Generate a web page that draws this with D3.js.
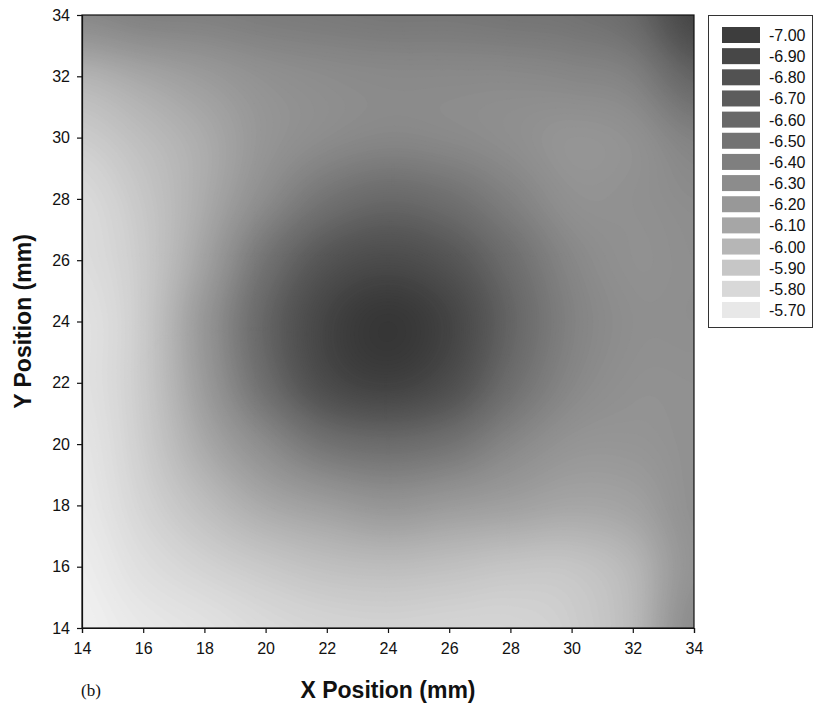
<!DOCTYPE html>
<html>
<head>
<meta charset="utf-8">
<script src="https://cdn.jsdelivr.net/npm/d3@7"></script>
<style>
  body { margin: 0; background: #fff; }
  text { font-family: "Liberation Sans", Arial, sans-serif; fill: #111; }
</style>
</head>
<body>
<svg id="chart" width="813" height="707"></svg>
<script>
// Measurement grid (mm) and the potential measured at each node, rows from top (y = 34) to bottom (y = 14)
const xPositions = [14, 16, 18, 20, 22, 24, 26, 28, 30, 32, 34];
const yPositions = [34, 32, 30, 28, 26, 24, 22, 20, 18, 16, 14];
const potential = [
  [-6.32, -6.38, -6.39, -6.42, -6.44, -6.46, -6.46, -6.48, -6.50, -6.59, -6.91],
  [-6.02, -6.10, -6.18, -6.26, -6.30, -6.32, -6.32, -6.32, -6.34, -6.39, -6.63],
  [-5.87, -5.96, -6.07, -6.22, -6.30, -6.34, -6.32, -6.28, -6.23, -6.26, -6.38],
  [-5.79, -5.90, -6.07, -6.30, -6.50, -6.59, -6.53, -6.39, -6.26, -6.26, -6.30],
  [-5.77, -5.88, -6.13, -6.50, -6.77, -6.86, -6.77, -6.55, -6.34, -6.26, -6.28],
  [-5.74, -5.88, -6.21, -6.62, -6.93, -7.06, -6.93, -6.63, -6.38, -6.28, -6.28],
  [-5.74, -5.88, -6.18, -6.55, -6.86, -6.96, -6.84, -6.55, -6.34, -6.26, -6.26],
  [-5.72, -5.86, -6.08, -6.30, -6.50, -6.56, -6.50, -6.34, -6.23, -6.22, -6.26],
  [-5.70, -5.82, -5.95, -6.08, -6.16, -6.22, -6.18, -6.14, -6.10, -6.13, -6.26],
  [-5.67, -5.76, -5.83, -5.89, -5.94, -5.96, -5.94, -5.91, -5.91, -6.00, -6.24],
  [-5.65, -5.70, -5.74, -5.79, -5.82, -5.83, -5.82, -5.82, -5.86, -5.98, -6.30]
];

// Legend levels and their grey fills
const legendLevels = [-7.00, -6.90, -6.80, -6.70, -6.60, -6.50, -6.40, -6.30, -6.20, -6.10, -6.00, -5.90, -5.80, -5.70];
const legendGreys = ["#3d3d3d", "#474747", "#525252", "#5c5c5c", "#686868", "#737373", "#7f7f7f",
                     "#8c8c8c", "#989898", "#a6a6a6", "#b6b6b6", "#c6c6c6", "#d8d8d8", "#e8e8e8"];

const xTicks = [14, 16, 18, 20, 22, 24, 26, 28, 30, 32, 34];
const yTicks = [14, 16, 18, 20, 22, 24, 26, 28, 30, 32, 34];

const plot = { left: 82, right: 694, top: 15, bottom: 628 };
const x = d3.scaleLinear().domain([14, 34]).range([plot.left, plot.right]);
const y = d3.scaleLinear().domain([14, 34]).range([plot.bottom, plot.top]);
const shade = d3.scaleLinear().domain(legendLevels).range(legendGreys);

const svg = d3.select("#chart");

// Smooth surface through the grid nodes (Catmull-Rom in both directions) for shading
function cubic(p0, p1, p2, p3, t) {
  return p1 + 0.5 * t * (p2 - p0 + t * (2 * p0 - 5 * p1 + 4 * p2 - p3 + t * (3 * (p1 - p2) + p3 - p0)));
}
const nx = xPositions.length, ny = yPositions.length;
const at = (r, c) => potential[Math.max(0, Math.min(ny - 1, r))][Math.max(0, Math.min(nx - 1, c))];
function surface(xd, yd) {
  const gx = (xd - xPositions[0]) / (xPositions[1] - xPositions[0]);
  const gy = (yPositions[0] - yd) / (yPositions[0] - yPositions[1]);
  const c = Math.min(nx - 2, Math.floor(gx)), r = Math.min(ny - 2, Math.floor(gy));
  const tx = gx - c, ty = gy - r;
  const rows = [-1, 0, 1, 2].map(dr =>
    cubic(at(r + dr, c - 1), at(r + dr, c), at(r + dr, c + 1), at(r + dr, c + 2), tx));
  return cubic(rows[0], rows[1], rows[2], rows[3], ty);
}

const N = 240;
const field = new Float64Array(N * N);
for (let j = 0; j < N; j++) {
  for (let i = 0; i < N; i++) {
    const xd = 14 + (i + 0.5) / N * 20;
    const yd = 34 - (j + 0.5) / N * 20;
    field[j * N + i] = surface(xd, yd);
  }
}

const step = 0.01;
const thresholds = d3.range(-7.4, -5.45, step);
const bands = d3.contours().size([N, N]).thresholds(thresholds)(field);
const toScreen = d3.geoTransform({
  point(px, py) { this.stream.point(x(14 + px / N * 20), y(34 - py / N * 20)); }
});
const path = d3.geoPath(toScreen);

svg.append("clipPath").attr("id", "plot-clip")
  .append("rect")
  .attr("x", plot.left).attr("y", plot.top)
  .attr("width", plot.right - plot.left).attr("height", plot.bottom - plot.top);

svg.append("g").attr("clip-path", "url(#plot-clip)")
  .selectAll("path")
  .data(bands)
  .join("path")
  .attr("d", path)
  .attr("fill", d => shade(d.value + step / 2))
  .attr("stroke", d => shade(d.value + step / 2))
  .attr("stroke-width", 0.4);

// Frame
svg.append("rect")
  .attr("x", plot.left).attr("y", plot.top)
  .attr("width", plot.right - plot.left).attr("height", plot.bottom - plot.top)
  .attr("fill", "none").attr("stroke", "#111").attr("stroke-width", 1.2);

// Axes
const xAxis = svg.append("g")
  .attr("transform", `translate(0,${plot.bottom})`)
  .call(d3.axisBottom(x).tickValues(xTicks).tickSize(5).tickPadding(10).tickFormat(d3.format("d")));
const yAxis = svg.append("g")
  .attr("transform", `translate(${plot.left},0)`)
  .call(d3.axisLeft(y).tickValues(yTicks).tickSize(5).tickPadding(7).tickFormat(d3.format("d")));
[xAxis, yAxis].forEach(g => {
  g.select(".domain").attr("stroke", "#111").attr("stroke-width", 1.2);
  g.selectAll(".tick line").attr("stroke", "#111").attr("stroke-width", 1.2);
  g.selectAll(".tick text").attr("font-size", 16).attr("fill", "#111")
    .style("font-family", '"Liberation Sans", Arial, sans-serif');
});

// Axis titles
svg.append("text")
  .attr("x", (plot.left + plot.right) / 2).attr("y", 698)
  .attr("text-anchor", "middle")
  .attr("font-size", 23).attr("font-weight", "bold")
  .text("X Position (mm)");

svg.append("text")
  .attr("transform", `translate(31,${(plot.top + plot.bottom) / 2}) rotate(-90)`)
  .attr("text-anchor", "middle")
  .attr("font-size", 23).attr("font-weight", "bold")
  .text("Y Position (mm)");

svg.append("text")
  .attr("x", 81).attr("y", 696)
  .attr("font-size", 17)
  .style("font-family", '"Liberation Serif", "Times New Roman", serif')
  .text("(b)");

// Legend
const legend = svg.append("g");
legend.append("rect")
  .attr("x", 708.5).attr("y", 15.5).attr("width", 104).attr("height", 312)
  .attr("fill", "#fff").attr("stroke", "#333").attr("stroke-width", 1);

const legendRow = d3.scaleLinear().domain([0, legendLevels.length - 1]).range([35, 310]);
const entries = legend.selectAll("g.entry")
  .data(legendLevels)
  .join("g").attr("class", "entry")
  .attr("transform", (d, i) => `translate(0,${legendRow(i)})`);
entries.append("rect")
  .attr("x", 722).attr("y", -8).attr("width", 38).attr("height", 16)
  .attr("fill", d => shade(d));
entries.append("text")
  .attr("x", 769).attr("y", 6)
  .attr("font-size", 16)
  .text(d => d.toFixed(2));
</script>
</body>
</html>
